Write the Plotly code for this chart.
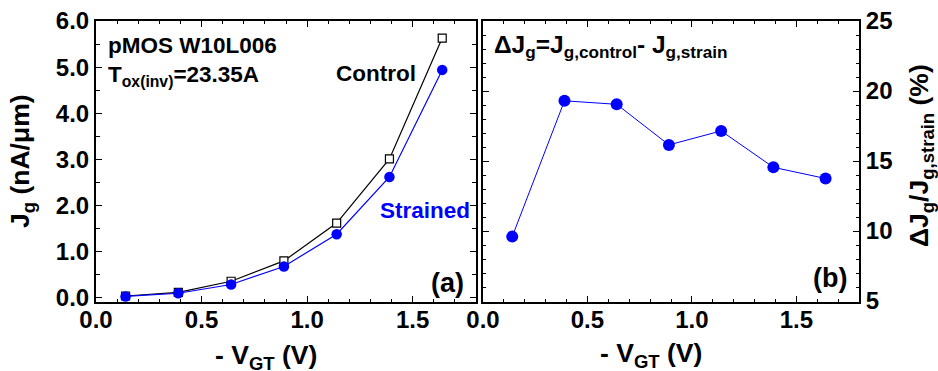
import plotly.graph_objects as go

# Gate leakage current density vs. gate overdrive
vgt = [0.14, 0.39, 0.64, 0.89, 1.14, 1.39, 1.64]
jg_control = [0.04, 0.12, 0.36, 0.80, 1.62, 3.01, 5.63]
jg_strained = [0.03, 0.10, 0.29, 0.68, 1.38, 2.62, 4.94]
# Relative reduction ΔJg / Jg,strain (%)
dj_ratio = [9.6, 19.3, 19.05, 16.15, 17.15, 14.55, 13.75]

BLUE = "#0000ff"
FONT = "Liberation Sans, Arial, Helvetica, sans-serif"
W, H = 938, 371


def px(x):
    return x / W


def py(y):
    return 1 - y / H


fig = go.Figure()

fig.add_trace(go.Scatter(
    x=vgt, y=jg_control, mode="lines+markers", xaxis="x", yaxis="y",
    line=dict(color="black", width=1.2),
    marker=dict(symbol="square", size=8, color="white",
                line=dict(color="black", width=1.2)),
))
fig.add_trace(go.Scatter(
    x=vgt, y=jg_strained, mode="lines+markers", xaxis="x", yaxis="y",
    line=dict(color=BLUE, width=1.2),
    marker=dict(symbol="circle", size=10.5, color=BLUE),
))
fig.add_trace(go.Scatter(
    x=vgt, y=dj_ratio, mode="lines+markers", xaxis="x2", yaxis="y2",
    line=dict(color=BLUE, width=1),
    marker=dict(symbol="circle", size=12, color=BLUE),
))

tickfont = dict(family=FONT, size=24, color="black", weight="bold")
common = dict(
    showline=True, linecolor="black", linewidth=2, mirror="allticks",
    ticks="inside", tickcolor="black", tickwidth=1.3, showgrid=False,
    zeroline=False, tickfont=tickfont, automargin=False,
)

dom_y = [py(302), py(21)]

fig.update_layout(
    width=W, height=H, margin=dict(l=0, r=0, t=0, b=0, pad=0),
    paper_bgcolor="white", plot_bgcolor="white", showlegend=False,
    font=dict(family=FONT, color="black", weight="bold"),
    xaxis=dict(domain=[px(96), px(476)], range=[0, 1.8], dtick=0.5,
               tickformat=".1f", ticklen=6, ticklabelstandoff=-5,
               minor=dict(dtick=0.1, ticks="inside", ticklen=3,
                          tickcolor="black", tickwidth=1),
               anchor="y", **common),
    yaxis=dict(domain=dom_y, range=[-0.09, 6.0], dtick=1.0,
               tickformat=".1f", ticklen=6,
               minor=dict(dtick=0.5, ticks="inside", ticklen=4,
                          tickcolor="black", tickwidth=1),
               anchor="x", **common),
    xaxis2=dict(domain=[px(483), px(859)], range=[0, 1.8], dtick=0.5,
                tickformat=".1f", ticklen=6, ticklabelstandoff=-5,
                minor=dict(dtick=0.1, ticks="inside", ticklen=3,
                           tickcolor="black", tickwidth=1),
                anchor="y2", **common),
    yaxis2=dict(domain=dom_y, range=[4.93, 25], dtick=5, side="right",
                ticklen=6,
                minor=dict(dtick=1, ticks="inside", ticklen=3,
                           tickcolor="black", tickwidth=1),
                anchor="x2", **common),
)

ann = []


def text(x, y, s, size=22.5, color="black", xanchor="left",
         yanchor="middle", angle=0):
    ann.append(dict(
        x=px(x), y=py(y), xref="paper", yref="paper", text=s,
        showarrow=False, xanchor=xanchor, yanchor=yanchor, textangle=angle,
        font=dict(family=FONT, size=size, color=color, weight="bold"),
    ))


# Panel (a) labels
text(106, 45, "pMOS W10L006")
text(106, 76, "T<sub>ox(inv)</sub>=23.35A")
text(418, 73, "Control", xanchor="right")
text(378, 210, "Strained", color=BLUE)
text(466, 283, "(a)", size=27, xanchor="right")
# Panel (b) labels
text(492, 47, "ΔJ<sub>g</sub>=J<sub>g,control</sub>- J<sub>g,strain</sub>",
     size=24.5)
text(849, 278, "(b)", size=27, xanchor="right")

# Axis titles
text(266, 357, "- V<sub>GT</sub> (V)", size=26.5, xanchor="center")
text(651, 355, "- V<sub>GT</sub> (V)", size=26.5, xanchor="center")
text(22, 161, "J<sub>g</sub> (nA/μm)", size=26.5, xanchor="center", angle=-90)
text(921, 156, "ΔJ<sub>g</sub>/J<sub>g,strain</sub> (%)", size=26.5,
     xanchor="center", angle=-90)

fig.update_layout(annotations=ann)

fig.write_html("out.html")
